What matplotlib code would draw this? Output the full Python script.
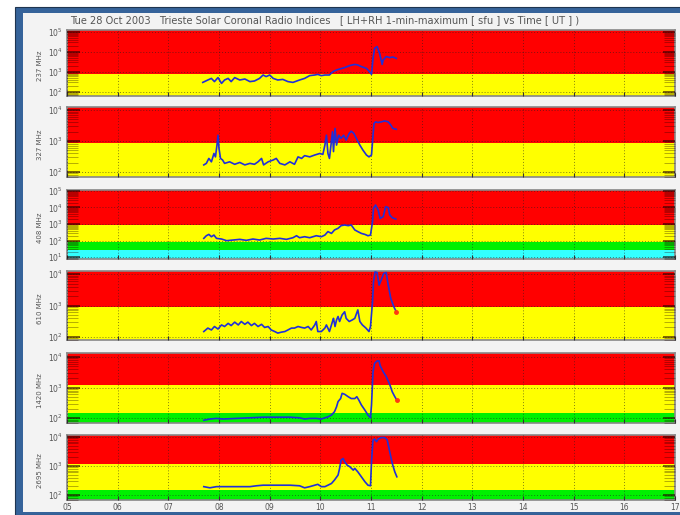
import matplotlib
matplotlib.use("Agg")
import matplotlib.pyplot as plt
from matplotlib.patches import Rectangle
from matplotlib.ticker import FixedLocator, LogLocator, NullFormatter
import numpy as np

# --- data ---

title = ("Tue 28 Oct 2003   Trieste Solar Coronal Radio Indices   "
         "[ LH+RH 1-min-maximum [ sfu ] vs Time [ UT ] )")
freq_labels = ["237 MHz", "327 MHz", "408 MHz", "610 MHz", "1420 MHz", "2695 MHz"]
hour_labels = ["05", "06", "07", "08", "09", "10", "11", "12", "13", "14", "15", "16", "17"]

# log10 of y-range per panel
ylog_ranges = [(1.8, 5.1), (1.84, 4.1), (0.88, 5.06), (1.9, 4.1), (1.84, 4.13), (1.83, 4.07)]

# colour bands: (log10 upper limit, colour) from bottom up; last one goes to top
bands = [
    [(2.9, "yellow"), (9, "red")],
    [(2.94, "yellow"), (9, "red")],
    [(1.42, "cyan"), (1.9, "green"), (2.94, "yellow"), (9, "red")],
    [(2.95, "yellow"), (9, "red")],
    [(2.16, "green"), (3.08, "yellow"), (9, "red")],
    [(2.17, "green"), (3.07, "yellow"), (9, "red")],
]

t_237 = [7.68, 7.78, 7.85, 7.91, 7.98, 8.05, 8.11, 8.18, 8.24, 8.31, 8.41, 8.51, 8.61,
         8.70, 8.80, 8.87, 8.93, 9.00, 9.07, 9.16, 9.26, 9.36, 9.46, 9.59, 9.69, 9.79,
         9.89, 9.95, 10.02, 10.09, 10.18, 10.25, 10.32, 10.38, 10.48, 10.58, 10.68,
         10.74, 10.81, 10.91, 10.97, 11.01, 11.04, 11.07, 11.12, 11.17, 11.22, 11.24,
         11.30, 11.37, 11.43, 11.50]
f_237 = [2.48, 2.60, 2.68, 2.52, 2.72, 2.43, 2.60, 2.68, 2.52, 2.72, 2.60, 2.65, 2.52,
         2.55, 2.68, 2.85, 2.77, 2.85, 2.68, 2.60, 2.63, 2.52, 2.48, 2.60, 2.68, 2.82,
         2.85, 2.88, 2.82, 2.85, 2.85, 3.02, 3.10, 3.15, 3.22, 3.32, 3.38, 3.35, 3.27,
         3.18, 3.02, 2.88, 3.68, 4.18, 4.27, 3.93, 3.38, 3.60, 3.77, 3.72, 3.75, 3.68]

t_327 = [7.70, 7.75, 7.80, 7.85, 7.90, 7.93, 7.96, 7.98, 8.00, 8.03, 8.07, 8.11, 8.21,
         8.31, 8.41, 8.51, 8.61, 8.70, 8.77, 8.84, 8.88, 8.97, 9.07, 9.13, 9.20, 9.30,
         9.40, 9.49, 9.56, 9.63, 9.69, 9.79, 9.89, 9.99, 10.05, 10.09, 10.12, 10.15,
         10.18, 10.24, 10.26, 10.29, 10.32, 10.36, 10.41, 10.46, 10.51, 10.57, 10.61,
         10.66, 10.71, 10.78, 10.84, 10.91, 10.96, 11.01, 11.04, 11.06, 11.09, 11.14,
         11.20, 11.27, 11.34, 11.39, 11.43, 11.50]
f_327 = [2.23, 2.28, 2.44, 2.33, 2.60, 2.49, 2.87, 3.19, 2.76, 2.44, 2.39, 2.28, 2.33,
         2.25, 2.31, 2.23, 2.28, 2.25, 2.33, 2.44, 2.23, 2.33, 2.39, 2.44, 2.28, 2.23,
         2.33, 2.25, 2.49, 2.44, 2.53, 2.49, 2.55, 2.60, 2.57, 2.87, 3.19, 2.60, 2.44,
         3.30, 2.66, 3.41, 2.87, 3.19, 3.09, 3.19, 3.03, 3.25, 3.32, 3.25, 3.09, 2.87,
         2.71, 2.55, 2.49, 2.55, 3.19, 3.57, 3.62, 3.60, 3.62, 3.65, 3.62, 3.52, 3.41,
         3.38]

t_408 = [7.70, 7.75, 7.80, 7.85, 7.90, 7.95, 8.05, 8.15, 8.28, 8.41, 8.54, 8.67, 8.80,
         8.93, 9.07, 9.20, 9.33, 9.46, 9.53, 9.59, 9.69, 9.79, 9.92, 10.02, 10.09,
         10.15, 10.22, 10.28, 10.35, 10.41, 10.48, 10.55, 10.61, 10.68, 10.74, 10.81,
         10.88, 10.94, 10.99, 11.03, 11.05, 11.09, 11.14, 11.18, 11.24, 11.29, 11.34,
         11.37, 11.42, 11.49]
f_408 = [2.13, 2.29, 2.37, 2.23, 2.33, 2.13, 2.09, 1.99, 2.03, 2.07, 2.01, 2.09, 2.03,
         2.13, 2.09, 2.13, 2.07, 2.17, 2.29, 2.17, 2.23, 2.17, 2.29, 2.23, 2.33, 2.54,
         2.43, 2.64, 2.74, 2.90, 2.94, 2.90, 2.94, 2.64, 2.54, 2.43, 2.37, 2.29, 2.33,
         3.14, 3.95, 4.15, 3.85, 3.34, 3.44, 4.05, 3.99, 3.55, 3.38, 3.30]

t_610 = [7.70, 7.78, 7.85, 7.91, 7.98, 8.05, 8.11, 8.18, 8.24, 8.31, 8.38, 8.44, 8.51,
         8.57, 8.64, 8.70, 8.77, 8.84, 8.90, 8.97, 9.03, 9.10, 9.16, 9.23, 9.30, 9.36,
         9.43, 9.49, 9.56, 9.63, 9.69, 9.76, 9.82, 9.89, 9.92, 9.95, 10.02, 10.09,
         10.12, 10.18, 10.24, 10.26, 10.29, 10.32, 10.35, 10.38, 10.43, 10.48, 10.51,
         10.57, 10.63, 10.68, 10.74, 10.78, 10.83, 10.90, 10.96, 10.99, 11.03, 11.05,
         11.08, 11.12, 11.16, 11.20, 11.25, 11.30, 11.34, 11.39, 11.45, 11.50]
f_610 = [2.17, 2.28, 2.22, 2.33, 2.25, 2.38, 2.33, 2.43, 2.36, 2.47, 2.38, 2.49, 2.40,
         2.47, 2.36, 2.43, 2.33, 2.40, 2.30, 2.33, 2.22, 2.17, 2.12, 2.15, 2.17, 2.22,
         2.28, 2.28, 2.33, 2.30, 2.28, 2.33, 2.22, 2.38, 2.49, 2.17, 2.17, 2.28, 2.38,
         2.17, 2.49, 2.59, 2.33, 2.54, 2.65, 2.49, 2.70, 2.80, 2.59, 2.49, 2.54, 2.59,
         2.86, 2.49, 2.38, 2.28, 2.17, 2.33, 3.12, 3.76, 4.07, 4.05, 3.65, 3.81, 4.02,
         4.05, 3.65, 3.23, 2.96, 2.80]

t_1420 = [7.70, 7.82, 7.95, 8.08, 8.34, 8.61, 8.87, 9.13, 9.40, 9.59, 9.69, 9.79, 9.92,
          10.02, 10.09, 10.15, 10.22, 10.28, 10.32, 10.35, 10.40, 10.43, 10.48, 10.55,
          10.61, 10.68, 10.72, 10.76, 10.81, 10.88, 10.94, 10.99, 11.01, 11.04, 11.07,
          11.12, 11.16, 11.18, 11.24, 11.30, 11.37, 11.42, 11.47, 11.51]
f_1420 = [1.93, 1.97, 1.99, 1.97, 1.99, 2.01, 2.03, 2.03, 2.03, 2.01, 1.97, 1.99, 1.99,
          1.97, 2.01, 2.04, 2.10, 2.21, 2.37, 2.54, 2.64, 2.81, 2.78, 2.70, 2.64, 2.64,
          2.70, 2.59, 2.43, 2.26, 2.10, 2.01, 2.43, 3.52, 3.79, 3.87, 3.87, 3.72, 3.52,
          3.36, 3.10, 2.86, 2.70, 2.59]

t_2695 = [7.70, 7.82, 7.95, 8.08, 8.34, 8.61, 8.74, 8.87, 9.13, 9.40, 9.59, 9.69, 9.79,
          9.89, 9.95, 10.02, 10.09, 10.15, 10.22, 10.28, 10.35, 10.38, 10.41, 10.45,
          10.48, 10.53, 10.58, 10.65, 10.68, 10.74, 10.81, 10.88, 10.94, 10.99, 11.01,
          11.04, 11.07, 11.11, 11.14, 11.20, 11.27, 11.32, 11.37, 11.42, 11.47, 11.51]
f_2695 = [2.29, 2.25, 2.29, 2.29, 2.29, 2.29, 2.32, 2.34, 2.34, 2.34, 2.32, 2.25, 2.29,
          2.34, 2.37, 2.29, 2.29, 2.34, 2.40, 2.52, 2.69, 2.92, 3.21, 3.26, 3.15, 3.03,
          2.98, 2.86, 2.92, 2.80, 2.63, 2.46, 2.34, 2.32, 3.15, 3.90, 3.93, 3.84, 3.93,
          3.98, 3.98, 3.90, 3.49, 3.09, 2.80, 2.63]

times = [t_237, t_327, t_408, t_610, t_1420, t_2695]
fluxes = [f_237, f_327, f_408, f_610, f_1420, f_2695]
end_dot = [False, False, False, True, True, False]

# --- layout (pixel rows of each panel, top/bottom) ---
W, H = 680, 515
rows = [(30, 96), (107, 177), (190, 259), (271, 340), (353, 423), (435, 500)]
x0, x1 = 67, 675

band_colors = {"red": "#ff0000", "yellow": "#ffff00", "green": "#00f000", "cyan": "#33ffff"}

fig = plt.figure(figsize=(W / 100, H / 100), dpi=100)
fig.patch.set_facecolor("white")

# blue window frame + light background
fig.add_artist(Rectangle((15 / W, 0), 1, 1 - 7 / H, transform=fig.transFigure,
                         facecolor="#36639a", edgecolor="#1f3550", lw=0.8, zorder=-3))
fig.add_artist(Rectangle((23 / W, 3.5 / H), 1, 1 - 16.5 / H, transform=fig.transFigure,
                         facecolor="#f3f3f3", edgecolor="none", zorder=-2))

fig.text(70 / W, 1 - 20 / H, title, fontsize=7.1, color="#555555", va="center", ha="left")

for i, (top, bot) in enumerate(rows):
    ax = fig.add_axes([x0 / W, 1 - bot / H, (x1 - x0) / W, (bot - top) / H])
    lo, hi = ylog_ranges[i]
    ax.set_yscale("log")
    ax.set_ylim(10 ** lo, 10 ** hi)
    ax.set_xlim(5, 17)

    prev = lo
    for upper, c in bands[i]:
        ax.axhspan(10 ** prev, 10 ** min(upper, hi), color=band_colors[c], lw=0, zorder=0)
        prev = upper
        if upper >= hi:
            break

    t = np.array(times[i])
    f = 10 ** np.array(fluxes[i])
    ax.plot(t, f, color="#2030d8", lw=1.2, zorder=3)
    if end_dot[i]:
        ax.plot(t[-1:], f[-1:], "o", color="#ff3a10", ms=2.5, zorder=4)

    decades = [d for d in range(0, 7) if lo <= d <= hi]
    ax.yaxis.set_major_locator(FixedLocator([10.0 ** d for d in decades]))
    ax.set_yticklabels([f"$10^{{{d}}}$" for d in decades])
    ax.yaxis.set_minor_locator(LogLocator(base=10, subs=np.arange(2, 10), numticks=20))
    ax.yaxis.set_minor_formatter(NullFormatter())
    ax.tick_params(axis="y", which="major", direction="in", length=9, width=1.2,
                   color=(0.15, 0, 0, 0.7), labelsize=5.5, labelcolor="#555555", pad=3,
                   left=True, right=True)
    ax.tick_params(axis="y", which="minor", direction="in", length=8, width=0.5,
                   color=(0.1, 0, 0, 0.45), left=True, right=True)

    ax.set_xticks(range(5, 18))
    ax.tick_params(axis="x", direction="in", length=3, color="#333333",
                   labelsize=5.5, labelcolor="#555555", pad=2)
    if i == len(rows) - 1:
        ax.set_xticklabels(hour_labels)
    else:
        ax.set_xticklabels([])

    ax.grid(True, which="major", axis="both", color="#202020", ls=(0, (1, 2)), lw=0.7,
            alpha=0.55, zorder=1)
    ax.set_axisbelow(False)
    for sp in ax.spines.values():
        sp.set_color("#888888")
        sp.set_linewidth(1.2)

    fig.text(40 / W, 1 - ((top + bot) / 2 + 3) / H, freq_labels[i], rotation=90,
             fontsize=5, color="#555555", ha="center", va="center")

fig.savefig("out.png", dpi=100)
